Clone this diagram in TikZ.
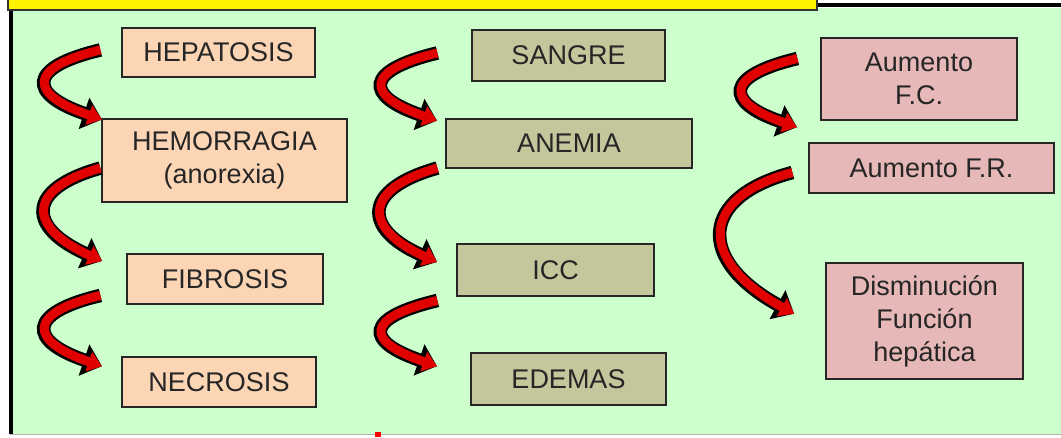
\documentclass[tikz,border=0pt]{standalone}
\usepackage{fontspec}
\setmainfont{Liberation Sans}
\usetikzlibrary{arrows.meta,calc}
\definecolor{panelgreen}{RGB}{204,255,204}
\definecolor{liverfill}{RGB}{252,213,181}
\definecolor{bloodfill}{RGB}{196,199,155}
\definecolor{pulsefill}{RGB}{230,185,184}
\definecolor{curlred}{RGB}{225,0,0}
\tikzset{
  box/.style={draw=black!85, line width=1.3pt, text=black!85, align=center,
    inner sep=0pt, font=\fontsize{27}{33}\selectfont},
  curl/.style={curlred, line width=9pt, shorten <=2pt, shorten >=2.5pt,
    -{Triangle[length=14pt,width=20pt]},
    preaction={draw=black, line width=13.5pt, -{Triangle[length=19pt,width=32pt]}}}
}
\begin{document}
\begin{tikzpicture}[x=1pt,y=-1pt]
    \useasboundingbox (0,0) rectangle (1061,437);
    \fill[white] (0,0) rectangle (1061,437);
    \fill[panelgreen] (10,8) rectangle (1061,434);
    \draw[gray!60, line width=1pt] (10,434) -- (1061,434);
    \draw[line width=4pt] (10.5,6) -- (10.5,434);
    \draw[line width=4pt] (817,5) -- (1061,5);
    \filldraw[fill=yellow, draw=black!80, line width=1.5pt] (8,-5) rectangle (817,10);
    \fill[red] (375,432) rectangle (381,437);
    % liver column
    \node[box, fill=liverfill, minimum width=193pt, minimum height=49pt] (hep) at (218.5,52.5) {HEPATOSIS};
    \node[box, fill=liverfill, minimum width=245pt, minimum height=83pt] (hem) at (224.5,160.5) {HEMORRAGIA\\(anorexia)};
    \node[box, fill=liverfill, minimum width=196pt, minimum height=50pt] (fib) at (225,279) {FIBROSIS};
    \node[box, fill=liverfill, minimum width=194pt, minimum height=50pt] (nec) at (219,382) {NECROSIS};
    % blood column
    \node[box, fill=bloodfill, minimum width=193pt, minimum height=51pt] (san) at (568.5,55.5) {SANGRE};
    \node[box, fill=bloodfill, minimum width=246pt, minimum height=49pt] (ane) at (569,143.5) {ANEMIA};
    \node[box, fill=bloodfill, minimum width=197pt, minimum height=52pt] (icc) at (555.5,270) {ICC};
    \node[box, fill=bloodfill, minimum width=195pt, minimum height=52pt] (ede) at (568.5,379) {EDEMAS};
    % pulse column
    \node[box, fill=pulsefill, minimum width=196pt, minimum height=82pt] (afc) at (919,79) {Aumento\\F.C.};
    \node[box, fill=pulsefill, minimum width=245pt, minimum height=50pt] (afr) at (931.5,168) {Aumento F.R.};
    \node[box, fill=pulsefill, minimum width=197pt, minimum height=116pt] (dis) at (924.5,321) {Disminución\\Función\\hepática};
    % curled arrows
    \draw[curl] ($(hep.west)+(-19,-3)$) .. controls +(-76,18) and +(-76,-26) .. ($(hem.north west)+(3,2)$);
    \draw[curl] ($(hem.west)+(1,7)$) .. controls +(-78,22) and +(-76,-34) .. ($(fib.west)+(-22,-17)$);
    \draw[curl] ($(fib.west)+(-24,16)$) .. controls +(-76,18) and +(-76,-26) .. ($(nec.west)+(-17,-15)$);
    \draw[curl] ($(san.west)+(-32,-3)$) .. controls +(-75,18) and +(-75,-26) .. ($(ane.west)+(-6,-22)$);
    \draw[curl] ($(ane.west)+(-6,24)$) .. controls +(-78,22) and +(-76,-34) .. ($(icc.west)+(-17,-7)$);
    \draw[curl] ($(icc.west)+(-17,30)$) .. controls +(-75,18) and +(-75,-26) .. ($(ede.west)+(-31,-12)$);
    \draw[curl] ($(afc.west)+(-21,-21)$) .. controls +(-75,18) and +(-75,-26) .. ($(afr.west)+(-9,-40)$);
    \draw[curl] ($(afr.west)+(-14,4)$) .. controls +(-95,25) and +(-100,-55) .. ($(dis.west)+(-29,-6)$);
\end{tikzpicture}
\end{document}
